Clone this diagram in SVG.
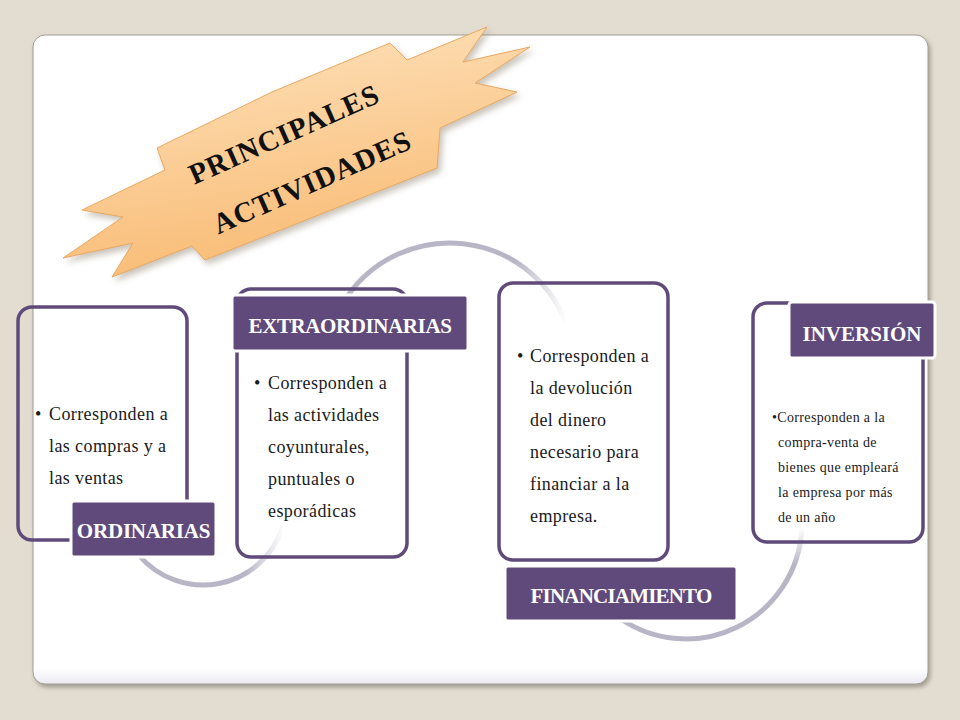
<svg xmlns="http://www.w3.org/2000/svg" width="960" height="720" viewBox="0 0 960 720">
<defs>
<style>
.body{font-family:"Liberation Serif","Times New Roman",serif;font-size:18px;fill:#1a1a1a;letter-spacing:0.4px}
.small{font-family:"Liberation Serif","Times New Roman",serif;font-size:14px;fill:#1a1a1a;letter-spacing:0.35px}
.lbl{font-family:"Liberation Serif","Times New Roman",serif;font-size:21px;font-weight:bold;fill:#ffffff;text-anchor:middle}
.title{font-family:"Liberation Serif","Times New Roman",serif;font-size:29px;font-weight:bold;fill:#111111;text-anchor:middle;letter-spacing:1px}
.outline{fill:none;stroke:#5F4B7B;stroke-width:3.5}
.lbox{fill:#604A7B;stroke:#ffffff;stroke-width:3}
.arc{fill:none;stroke-width:5;stroke-linecap:round}
</style>
<linearGradient id="star" x1="0" y1="0" x2="0.3" y2="1">
<stop offset="0" stop-color="#FEE4C0"/>
<stop offset="1" stop-color="#F9BC76"/>
</linearGradient>
<linearGradient id="frameg" x1="0" y1="0" x2="0" y2="1">
<stop offset="0.975" stop-color="#ffffff"/>
<stop offset="1" stop-color="#ECEAF2"/>
</linearGradient>
<linearGradient id="a1" gradientUnits="userSpaceOnUse" x1="245" y1="0" x2="284" y2="0">
<stop offset="0" stop-color="#B8B5C6"/>
<stop offset="1" stop-color="#B8B5C6" stop-opacity="0"/>
</linearGradient>
<linearGradient id="a2" gradientUnits="userSpaceOnUse" x1="515" y1="0" x2="566" y2="0">
<stop offset="0" stop-color="#B8B5C6"/>
<stop offset="1" stop-color="#B8B5C6" stop-opacity="0"/>
</linearGradient>
<linearGradient id="a3" gradientUnits="userSpaceOnUse" x1="0" y1="565" x2="0" y2="528">
<stop offset="0" stop-color="#B8B5C6"/>
<stop offset="1" stop-color="#B8B5C6" stop-opacity="0"/>
</linearGradient>
<filter id="shadow" x="-5%" y="-5%" width="110%" height="112%">
<feDropShadow dx="2" dy="3" stdDeviation="2" flood-color="#6f6a60" flood-opacity="0.55"/>
</filter>
<filter id="sshadow" x="-10%" y="-10%" width="125%" height="130%">
<feDropShadow dx="3" dy="4" stdDeviation="3" flood-color="#8a7a66" flood-opacity="0.45"/>
</filter>
</defs>

<rect x="0" y="0" width="960" height="720" fill="#E3DCD1"/>
<rect x="33" y="35" width="895" height="649" rx="12" fill="url(#frameg)" stroke="#A29E94" stroke-width="1" filter="url(#shadow)"/>

<g id="connectors">
<path class="arc" stroke="url(#a1)" d="M 138.7 555 A 84 84 0 0 0 282.9 527"/>
<path class="arc" stroke="url(#a2)" d="M 347.4 296.2 A 124.8 124.8 0 0 1 565 320"/>
<path class="arc" stroke="url(#a3)" d="M 619.5 618 A 116 116 0 0 0 801.8 529"/>
</g>

<g id="title">
<polygon points="157,148 272,92 390,43 407,60 487,27 463,62 530,47 475,83 517,92 440,128 437,168 205,260 192,246 112,277 133,243 63,258 123,217 82,210 165,170" fill="url(#star)" stroke="#E8A862" stroke-width="1" stroke-linejoin="miter" filter="url(#sshadow)"/>
<text class="title" transform="translate(288,143) rotate(-24)">PRINCIPALES</text>
<text class="title" transform="translate(316,191) rotate(-24)">ACTIVIDADES</text>
</g>

<g id="node-ordinarias">
<rect class="outline" x="18" y="307" width="169" height="233" rx="14"/>
<text class="body" x="35" y="420">•</text>
<text class="body" x="49" y="420">Corresponden a</text>
<text class="body" x="49" y="452">las compras y a</text>
<text class="body" x="49" y="484">las ventas</text>
<rect class="lbox" x="71" y="501" width="145" height="56" rx="3"/>
<text class="lbl" x="143.5" y="538" style="letter-spacing:-0.2px">ORDINARIAS</text>
</g>

<g id="node-extraordinarias">
<rect class="outline" x="237" y="289" width="170" height="268" rx="14"/>
<text class="body" x="254" y="389">•</text>
<text class="body" x="268" y="389">Corresponden a</text>
<text class="body" x="268" y="421">las actividades</text>
<text class="body" x="268" y="453">coyunturales,</text>
<text class="body" x="268" y="485">puntuales o</text>
<text class="body" x="268" y="517">esporádicas</text>
<rect class="lbox" x="232" y="295" width="236" height="56" rx="3"/>
<text class="lbl" x="350" y="333" style="letter-spacing:-0.4px">EXTRAORDINARIAS</text>
</g>

<g id="node-financiamiento">
<rect class="outline" x="499" y="283" width="169" height="277" rx="14"/>
<text class="body" x="517" y="362">•</text>
<text class="body" x="530" y="362">Corresponden a</text>
<text class="body" x="530" y="394">la devolución</text>
<text class="body" x="530" y="426">del dinero</text>
<text class="body" x="530" y="458">necesario para</text>
<text class="body" x="530" y="490">financiar a la</text>
<text class="body" x="530" y="522">empresa.</text>
<rect class="lbox" x="505" y="566" width="232" height="55" rx="3"/>
<text class="lbl" x="621" y="603" style="letter-spacing:-0.8px">FINANCIAMIENTO</text>
</g>

<g id="node-inversion">
<rect class="outline" x="753" y="303" width="170" height="239" rx="14"/>
<text class="small" x="772" y="422">•Corresponden a la</text>
<text class="small" x="778" y="447">compra-venta de</text>
<text class="small" x="778" y="472">bienes que empleará</text>
<text class="small" x="778" y="497">la empresa por más</text>
<text class="small" x="778" y="522">de un año</text>
<rect class="lbox" x="789" y="302" width="146" height="56" rx="3"/>
<text class="lbl" x="862" y="341">INVERSIÓN</text>
</g>
</svg>
